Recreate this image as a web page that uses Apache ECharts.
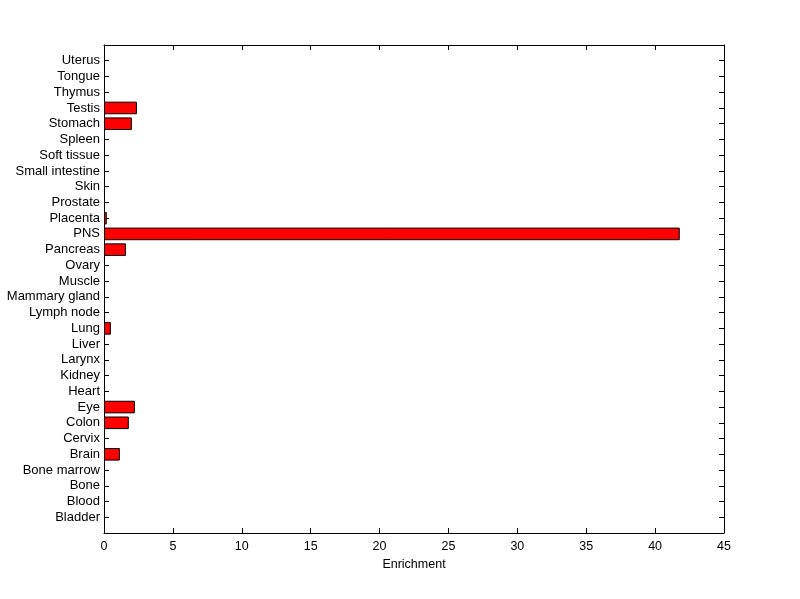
<!DOCTYPE html>
<html><head><meta charset="utf-8">
<script src="https://cdn.jsdelivr.net/npm/echarts@6/dist/echarts.min.js"></script>
<style>html,body{margin:0;padding:0;background:#fff}#c{width:800px;height:599px}</style>
</head><body><div id="c"></div>
<script>
const categories = ['Bladder','Blood','Bone','Bone marrow','Brain','Cervix','Colon','Eye','Heart','Kidney','Larynx','Liver','Lung','Lymph node','Mammary gland','Muscle','Ovary','Pancreas','PNS','Placenta','Prostate','Skin','Small intestine','Soft tissue','Spleen','Stomach','Testis','Thymus','Tongue','Uterus'];
const enrichment = [0,0,0,0,1.15,0,1.80,2.24,0,0,0,0,0.50,0,0,0,0,1.59,41.79,0.20,0,0,0,0,0,2.02,2.39,0,0,0];
const xTicks = [0,5,10,15,20,25,30,35,40,45];
const xTitle = 'Enrichment';

const font = '"Liberation Sans", Arial, Helvetica, sans-serif';
const yData = [''].concat(categories, ['']);
const barData = [null].concat(enrichment.map(v => v > 0 ? v : null), [null]);
const lastIdx = yData.length - 1;
const showIdx = (i) => i > 0 && i < lastIdx;
const chart = echarts.init(document.getElementById('c'), null, {renderer:'canvas'});
const axisLine = {show:true, onZero:false, lineStyle:{color:'#000', width:1}};
const tick = {show:true, inside:true, length:5, lineStyle:{color:'#000', width:1}};
chart.setOption({
  animation:false,
  backgroundColor:'#fff',
  grid:{left:104, right:76, top:45, bottom:66, containLabel:false},
  xAxis:[{
    type:'value', min:xTicks[0], max:xTicks[xTicks.length-1], interval:5, position:'bottom',
    axisLine:axisLine, axisTick:tick, splitLine:{show:false},
    axisLabel:{color:'#000', fontFamily:font, fontSize:12.5, margin:7},
    name:xTitle, nameLocation:'middle', nameGap:22,
    nameTextStyle:{color:'#000', fontFamily:font, fontSize:12.5}
  },{
    type:'value', min:xTicks[0], max:xTicks[xTicks.length-1], interval:5, position:'top',
    axisLine:axisLine, axisTick:tick, splitLine:{show:false}, axisLabel:{show:false}
  }],
  yAxis:[{
    type:'category', data:yData, boundaryGap:false, position:'left',
    axisLine:axisLine,
    axisTick:Object.assign({}, tick, {interval:(i)=>showIdx(i)}),
    axisLabel:{color:'#000', fontFamily:font, fontSize:13, margin:4, interval:0},
    splitLine:{show:false}
  },{
    type:'category', data:yData, boundaryGap:false, position:'right',
    axisLine:axisLine,
    axisTick:Object.assign({}, tick, {interval:(i)=>showIdx(i)}),
    axisLabel:{show:false}, splitLine:{show:false}
  }],
  series:[{
    type:'bar', xAxisIndex:0, yAxisIndex:0, data:barData, barWidth:12.6,
    itemStyle:{color:'#ff0000', borderColor:'#000', borderWidth:1},
    silent:true
  }]
});
</script></body></html>
